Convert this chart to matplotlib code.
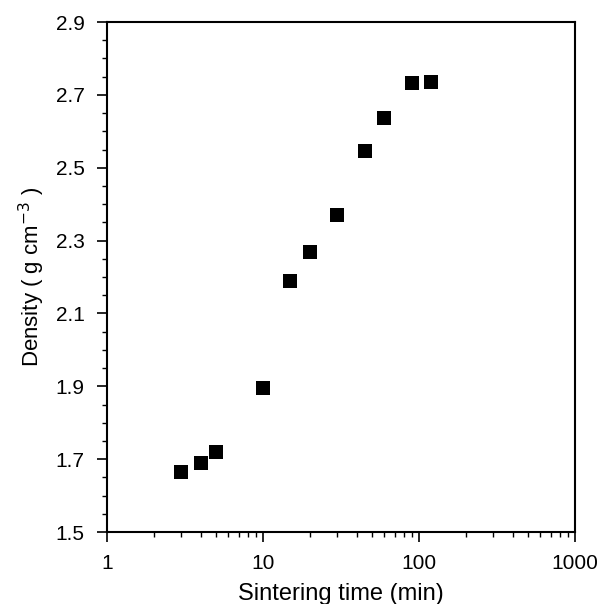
import matplotlib
matplotlib.use('Agg')
import matplotlib.pyplot as plt
from matplotlib.ticker import MultipleLocator, FixedLocator, NullFormatter
import numpy as np

# Data
time_min = [3, 4, 5, 10, 15, 20, 30, 45, 60, 90, 120]
density = [1.665, 1.689, 1.720, 1.895, 2.189, 2.269, 2.370, 2.546, 2.636, 2.732, 2.735]
xticks = [1, 10, 100, 1000]
xticklabels = ['1', '10', '100', '1000']
yticks = [1.5, 1.7, 1.9, 2.1, 2.3, 2.5, 2.7, 2.9]

plt.rcParams['font.family'] = ['Liberation Sans', 'DejaVu Sans']
plt.rc('font', size=15)

fig = plt.figure(figsize=(6.11, 6.04), dpi=100)
fig.patch.set_facecolor('white')
ax = fig.add_axes([107/611, 72/604, 468/611, 510/604])

ax.plot(time_min, density, 's', color='black', markersize=10, markeredgewidth=0)

ax.set_xscale('log')
ax.set_xlim(1, 1000)
ax.set_ylim(1.5, 2.9)
ax.set_xticks(xticks)
ax.set_xticklabels(xticklabels)
ax.xaxis.set_minor_locator(FixedLocator([m * d for d in (1, 10, 100) for m in range(2, 10)]))
ax.xaxis.set_minor_formatter(NullFormatter())
ax.set_yticks(yticks)
ax.set_yticklabels(['%.1f' % v for v in yticks])
ax.yaxis.set_minor_locator(MultipleLocator(0.05))

ax.tick_params(which='major', direction='out', length=7, width=1.2)
ax.tick_params(which='minor', direction='out', length=3.5, width=1)
ax.tick_params(axis='y', which='major', pad=9)
ax.tick_params(axis='x', which='major', pad=9)
for s in ax.spines.values():
    s.set_linewidth(1.5)

ax.set_xlabel('Sintering time (min)', fontsize=17, labelpad=7)
ax.set_ylabel('Density ( g cm$^{-3}$ )', fontsize=16, labelpad=6)

plt.savefig('out.png', dpi=100)
